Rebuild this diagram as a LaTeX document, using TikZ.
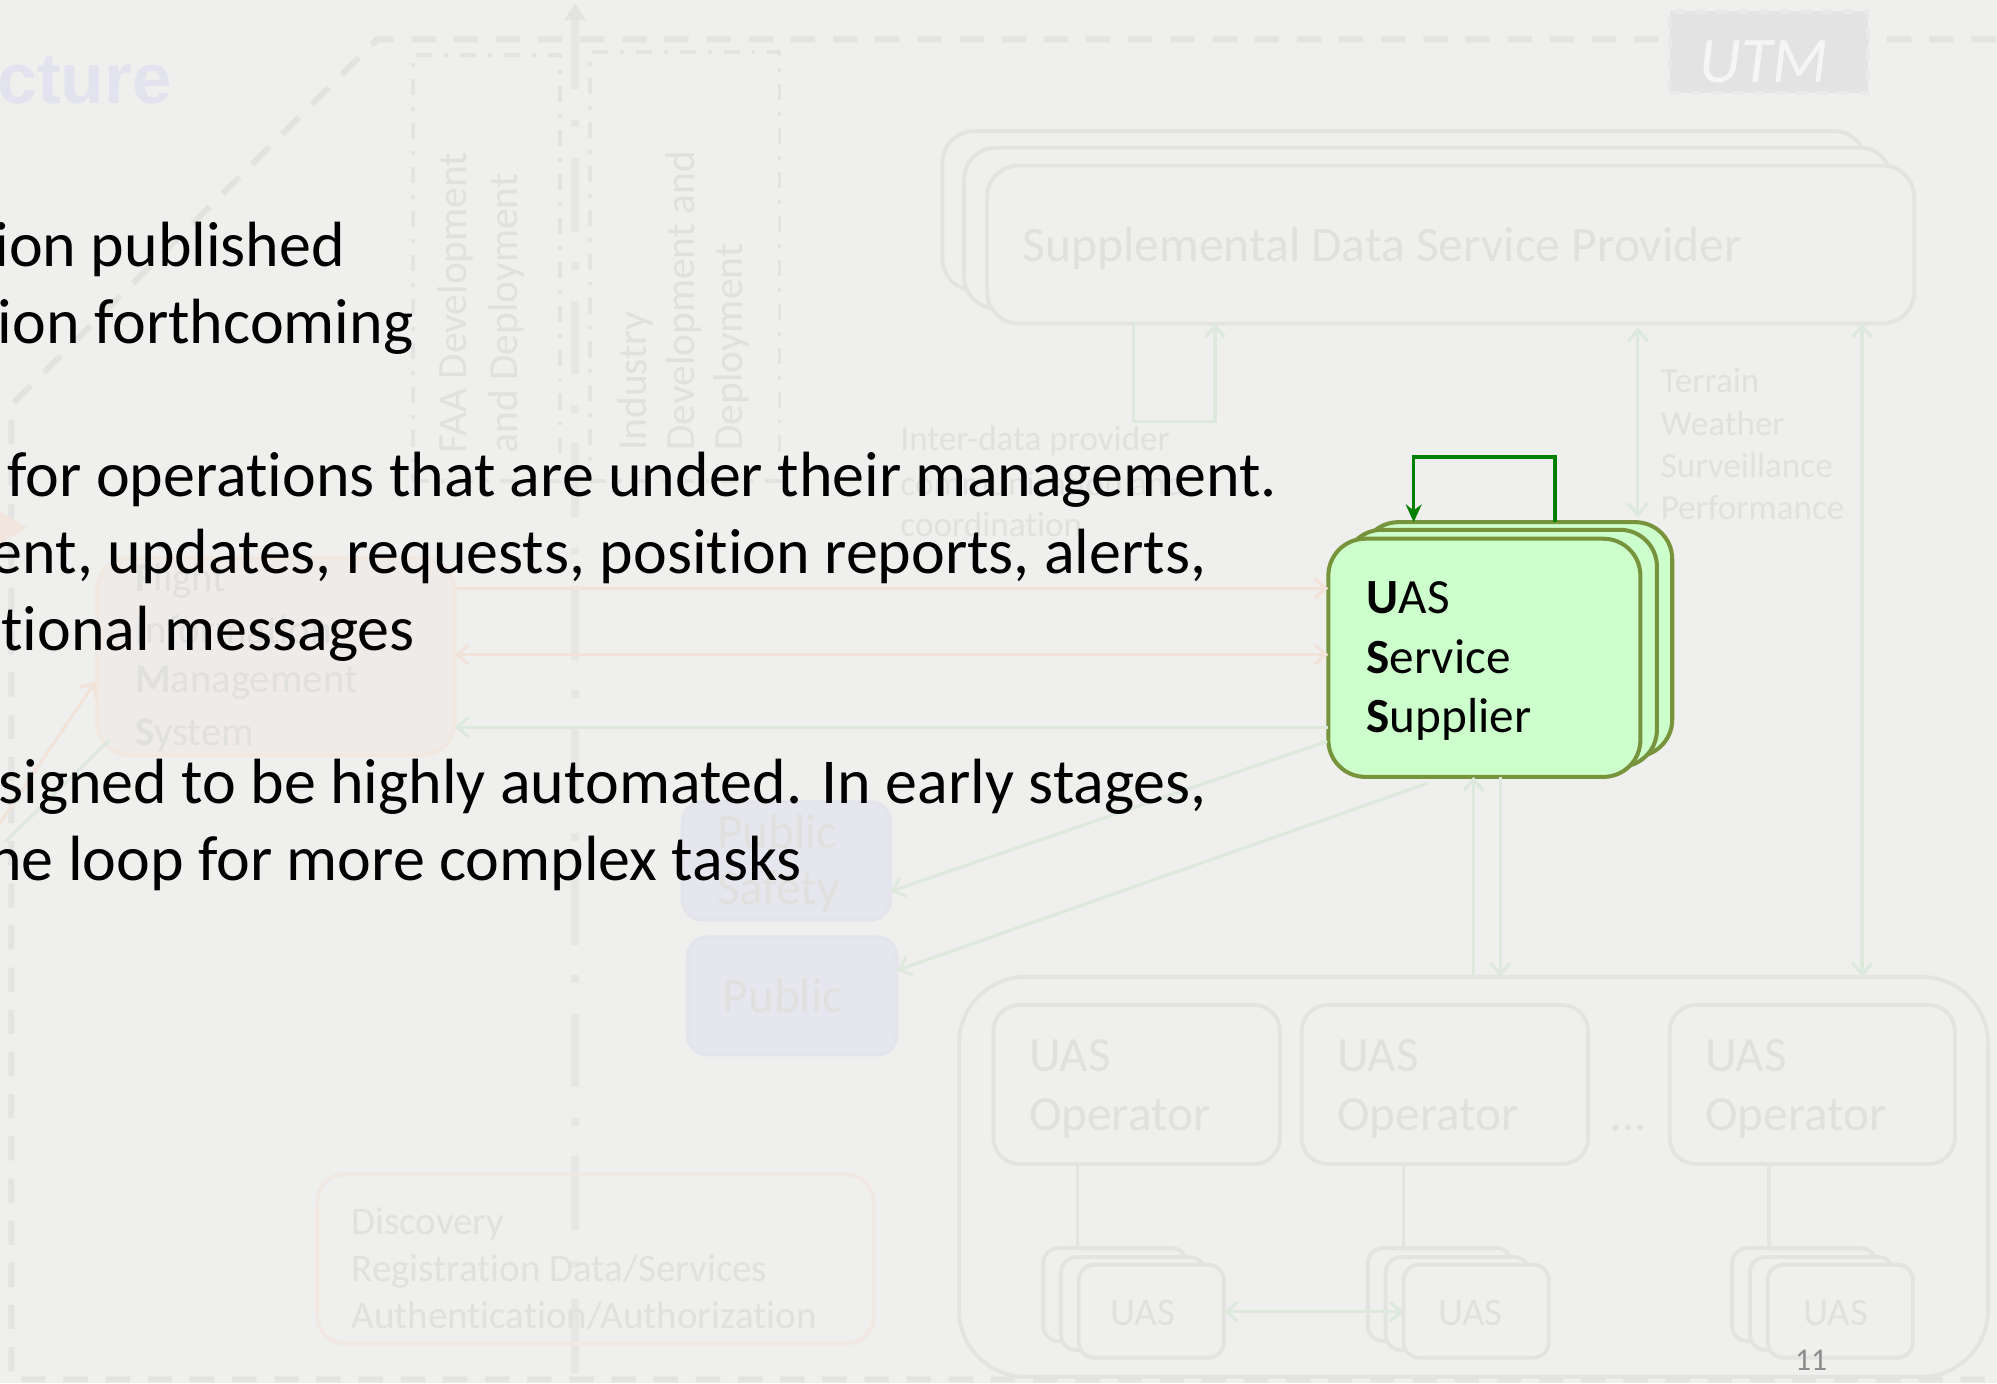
\documentclass[tikz,border=0pt]{standalone}
\usepackage{fontspec}
\setmainfont{Carlito}[Ligatures=NoCommon]
\newfontfamily\headfont{Liberation Sans}
\usetikzlibrary{arrows.meta,fit}

\definecolor{slidebg}{HTML}{EFEFED}
\definecolor{fgrey}{HTML}{E3E3E1}
\definecolor{ftext}{HTML}{E0E0DE}
\definecolor{fgreen}{HTML}{DDE9DD}
\definecolor{forange}{HTML}{F2E3DA}
\definecolor{ffims}{HTML}{EFEBE8}
\definecolor{flav}{HTML}{E6E7EE}
\definecolor{flavedge}{HTML}{E3E4EC}
\definecolor{ftitle}{HTML}{E3E3EF}
\definecolor{ussfill}{HTML}{CCFFCC}
\definecolor{ussline}{HTML}{77933C}
\definecolor{loopgreen}{HTML}{008000}
\definecolor{pagenum}{HTML}{8C8C8C}
\definecolor{utmbox}{HTML}{E3E3E3}
\definecolor{utmedge}{HTML}{E9E9E9}
\definecolor{utmtext}{HTML}{F5F5F5}

\newcommand\fsz[1]{\fontsize{#1}{#1}\selectfont}

\begin{document}
\begin{tikzpicture}[x=0.012736cm, y=-0.012736cm,
  every node/.style={inner sep=0pt, outer sep=0pt},
  >={Straight Barb[length=3.2pt,width=5.5pt]},
  body/.style={anchor=base east, font=\fsz{18.2pt}, text=black},
  ftxt/.style={anchor=base west, text=ftext},
  fbox/.style={rectangle, draw=fgrey, line width=1.1pt, fill=slidebg, rounded corners=#1},
  devbox/.style={rectangle, draw=fgrey, line width=1.1pt,
    dash pattern=on 4.6pt off 3.4pt on 1.1pt off 3.4pt},
  framedash/.style={draw=fgrey, line width=1.7pt, dash pattern=on 6.9pt off 5.1pt},
  axisdash/.style={draw=fgrey!90!white, line width=2.5pt,
    dash pattern=on 21pt off 8.7pt on 2.2pt off 8.7pt},
  gline/.style={draw=fgreen, line width=0.9pt},
  oline/.style={draw=forange, line width=0.9pt},
  kline/.style={draw=fgrey, line width=0.9pt},
  ussbox/.style={rectangle, draw=ussline, line width=1.15pt, fill=ussfill, rounded corners=10.5pt},
  ussloop/.style={draw=loopgreen, line width=1pt, -{Stealth[length=5pt,width=4.5pt]}}
]

% page and clipping
\useasboundingbox (0,0) rectangle (1568,1086);
\fill[slidebg] (0,0) rectangle (1568,1086);
\clip (0,0) rectangle (1568,1086);

% outer dashed UTM frame with chamfered corner
\draw[framedash] (1600,31) -- (296,31) -- (9,318) -- (9,1083) -- (1600,1083);

% title fragment
\node[anchor=base east, text=ftitle, font=\headfont\bfseries\fsz{20.3pt}] (title) at (135,81) {cture};

% development responsibility boxes
\node[devbox, fit={(324,43) (440,378)}] (faa) {};
\node[devbox, fit={(463,41) (612,378)}] (ind) {};
\node[rotate=90, anchor=base west, text=ftext, font=\fsz{11.8pt}] (faa1) at (366,356) {FAA Development};
\node[rotate=90, anchor=base west, text=ftext, font=\fsz{11.8pt}] (faa2) at (406,356) {and Deployment};
\node[rotate=90, anchor=base west, text=ftext, font=\fsz{11.8pt}] (ind1) at (508,354) {Industry};
\node[rotate=90, anchor=base west, text=ftext, font=\fsz{11.8pt}] (ind2) at (545,354) {Development and};
\node[rotate=90, anchor=base west, text=ftext, font=\fsz{11.8pt}] (ind3) at (583,354) {Deployment};

% central dashed axis with arrow head
\coordinate (axTop) at (451.5,12);
\coordinate (axBot) at (451.5,1090);
\draw[axisdash] (axTop) -- (axBot);
\fill[fgrey] (442.5,16) -- (451.5,3) -- (460.5,16) -- cycle;

% UTM label
\node[fit={(1311,9) (1467,73)}, fill=utmbox, draw=utmedge, dashed, line width=1.2pt] (utm) {};
\node[anchor=base, text=utmtext, font=\itshape\fsz{18.5pt}] (utmT) at (1385,65) {UTM};

% supplemental data service provider (stacked)
\node[fbox=9pt, fit={(740,103) (1465,228)}] (sdspB) {};
\node[fbox=9pt, fit={(757,116) (1485,242)}] (sdspM) {};
\node[fbox=9pt, fit={(775,130) (1503,254)}] (sdspF) {};
\node[ftxt, font=\fsz{14.1pt}] (sdspT) at (803,205) {Supplemental Data Service Provider};

% inter-provider loop
\coordinate (sdL) at (890,331);
\coordinate (sdR) at (954,331);
\draw[gline, ->] (sdspF.south -| sdL) -- (sdL) -- (sdR) -- (sdspF.south -| sdR);
\node[ftxt, font=\fsz{10pt}] (idp1) at (707,354) {Inter-data provider};
\node[ftxt, font=\fsz{10pt}] (idp2) at (707,389) {communication and};
\node[ftxt, font=\fsz{10pt}] (idp3) at (707,421) {coordination};

% supplemental data labels
\node[ftxt, font=\fsz{10pt}] (sd1) at (1304,308.5) {Terrain};
\node[ftxt, font=\fsz{10pt}] (sd2) at (1304,341.7) {Weather};
\node[ftxt, font=\fsz{10pt}] (sd3) at (1304,375) {Surveillance};
\node[ftxt, font=\fsz{10pt}] (sd4) at (1304,408.3) {Performance};

% flight information management system
\node[rectangle, draw=forange!60!slidebg, line width=1.1pt, fill=ffims, rounded corners=9.4pt,
  fit={(76,438) (357,593)}] (fims) {};
\node[ftxt, font=\fsz{11.6pt}] (fims1) at (106,464.6) {\textbf{F}light};
\node[ftxt, font=\fsz{11.6pt}] (fims2) at (106,505) {\textbf{I}nformation};
\node[ftxt, font=\fsz{11.6pt}] (fims3) at (106,544) {\textbf{M}anagement};
\node[ftxt, font=\fsz{11.6pt}] (fims4) at (106,585) {\textbf{S}ystem};

% links on the left of FIMS
\coordinate (lo1) at (-4,652);
\coordinate (lo2) at (75,535);
\draw[oline, ->] (lo1) -- (lo2);
\coordinate (lg1) at (86,581);
\coordinate (lg2) at (4,661);
\draw[gline] (lg1) -- (lg2);
\fill[forange!80!slidebg] (-2,400) -- (21,414) -- (-2,428) -- cycle;

% public safety and public
\node[rectangle, draw=flavedge, line width=1.1pt, fill=flav, rounded corners=5.5pt,
  fit={(536,630) (699,722)}] (psafe) {};
\node[ftxt, font=\fsz{14pt}] (ps1) at (563,666) {Public};
\node[ftxt, font=\fsz{14pt}] (ps2) at (563,710) {Safety};
\node[rectangle, draw=flavedge, line width=1.1pt, fill=flav, rounded corners=5.5pt,
  fit={(540,736) (704,828)}] (public) {};
\node[ftxt, font=\fsz{14pt}] (pub1) at (567.5,795) {Public};

% discovery and registration services
\node[rectangle, draw=forange!55!slidebg, line width=1.1pt, rounded corners=8pt,
  fit={(249,922) (686,1055)}] (disc) {};
\node[ftxt, font=\fsz{11.1pt}] (disc1) at (276,969) {Discovery};
\node[ftxt, font=\fsz{11.1pt}] (disc2) at (276,1006) {Registration Data/Services};
\node[ftxt, font=\fsz{11.1pt}] (disc3) at (276,1043) {Authentication/Authorization};

% UAS operators group
\node[fbox=19pt, fit={(753,767) (1561,1081)}] (grp) {};
\node[fbox=7.5pt, fit={(780,789) (1005,914)}] (op1) {};
\node[fbox=7.5pt, fit={(1022,789) (1247,914)}] (op2) {};
\node[fbox=7.5pt, fit={(1311,789) (1535,914)}] (op3) {};
\node[ftxt, font=\fsz{14pt}] (op1a) at (808,841) {UAS};
\node[ftxt, font=\fsz{14pt}] (op1b) at (808,888) {Operator};
\node[ftxt, font=\fsz{14pt}] (op2a) at (1050,841) {UAS};
\node[ftxt, font=\fsz{14pt}] (op2b) at (1050,888) {Operator};
\node[ftxt, font=\fsz{14pt}] (op3a) at (1339,841) {UAS};
\node[ftxt, font=\fsz{14pt}] (op3b) at (1339,888) {Operator};
\node[ftxt, font=\fsz{14pt}] (dots) at (1264,888) {...};

% UAS stacks
\foreach \i/\x in {1/847,2/1102,3/1388}{
  \node[fbox=4.4pt, fit={(\x-28,980) (\x+85,1053)}] (uB\i) {};
  \node[fbox=4.4pt, fit={(\x-14,987) (\x+99,1060)}] (uM\i) {};
  \node[fbox=4.4pt, fit={(\x,993) (\x+114,1066)}] (uF\i) {};
}
\node[anchor=base, text=ftext, font=\fsz{11.1pt}] (u1t) at (897.5,1041) {UAS};
\node[anchor=base, text=ftext, font=\fsz{11.1pt}] (u2t) at (1154.5,1041) {UAS};
\node[anchor=base, text=ftext, font=\fsz{11.1pt}] (u3t) at (1441.5,1041) {UAS};

% operator to UAS links
\coordinate (ov1) at (846,0);
\coordinate (ov2) at (1102,0);
\coordinate (ov3) at (1389,0);
\draw[kline] (op1.south -| ov1) -- (uB1.north -| ov1);
\draw[kline] (op2.south -| ov2) -- (uB2.north -| ov2);
\draw[kline] (op3.south -| ov3) -- (uB3.north -| ov3);
\coordinate (uh) at (0,1030);
\draw[gline, <->] (uF1.east |- uh) -- (uF2.west |- uh);

% UAS service supplier (stacked)
\node[ussbox, fit={(1069,410) (1313,594)}] (ussB) {};
\node[ussbox, fit={(1056,416) (1301,602)}] (ussM) {};
\node[ussbox, fit={(1043,423) (1288,610)}] (ussF) {};
\node[anchor=base west, font=\fsz{14pt}] (ussT1) at (1073,481.5) {\textbf{U}AS};
\node[anchor=base west, font=\fsz{14pt}] (ussT2) at (1073,529) {\textbf{S}ervice};
\node[anchor=base west, font=\fsz{14pt}] (ussT3) at (1073,575) {\textbf{S}upplier};

% inter-USS coordination loop
\coordinate (lpL) at (1110,359);
\coordinate (lpR) at (1221,359);
\draw[ussloop] (ussB.north -| lpR) -- (lpR) -- (lpL) -- (ussB.north -| lpL);

% SDSP to USS and operators
\coordinate (v1a) at (1286,257);
\coordinate (v1b) at (1286,406);
\draw[gline, <->] (v1a) -- (v1b);
\coordinate (v2) at (1462,0);
\draw[gline, <->] (sdspF.south -| v2) -- (grp.north -| v2);

% FIMS to USS exchanges
\coordinate (h1) at (0,462);
\coordinate (h2) at (0,514);
\coordinate (h3) at (0,571);
\draw[oline, ->] (fims.east |- h1) -- (ussF.west |- h1);
\draw[oline, <->] (fims.east |- h2) -- (ussF.west |- h2);
\draw[gline, <-] (fims.east |- h3) -- (ussF.west |- h3);

% USS to public safety and public
\coordinate (dA) at (1042,582);
\coordinate (dAt) at (0,700);
\coordinate (dB) at (1121,615);
\coordinate (dBt) at (0,762);
\draw[gline, ->] (dA) -- (psafe.east |- dAt);
\draw[gline, ->] (dB) -- (public.east |- dBt);

% USS to operators
\coordinate (w1) at (1157,0);
\coordinate (w2) at (1178,0);
\draw[gline, ->] (grp.north -| w1) -- (ussF.south -| w1);
\draw[gline, ->] (ussF.south -| w2) -- (grp.north -| w2);

% slide text
\node[body] (l1) at (271,209.5) {ion published};
\node[body] (l2) at (324.5,269.5) {ion forthcoming};
\node[body] (l3) at (1002.5,390) {for operations that are under their management.};
\node[body] (l4) at (947,450.5) {ent, updates, requests, position reports, alerts,};
\node[body] (l5) at (325.5,510.5) {tional messages};
\node[body] (l6) at (947.5,631) {signed to be highly automated. In early stages,};
\node[body] (l7) at (629.6,691) {ne loop for more complex tasks};

% page number
\node[anchor=base, text=pagenum, font=\fsz{9pt}] (pg) at (1422,1076) {11};

\end{tikzpicture}
\end{document}
